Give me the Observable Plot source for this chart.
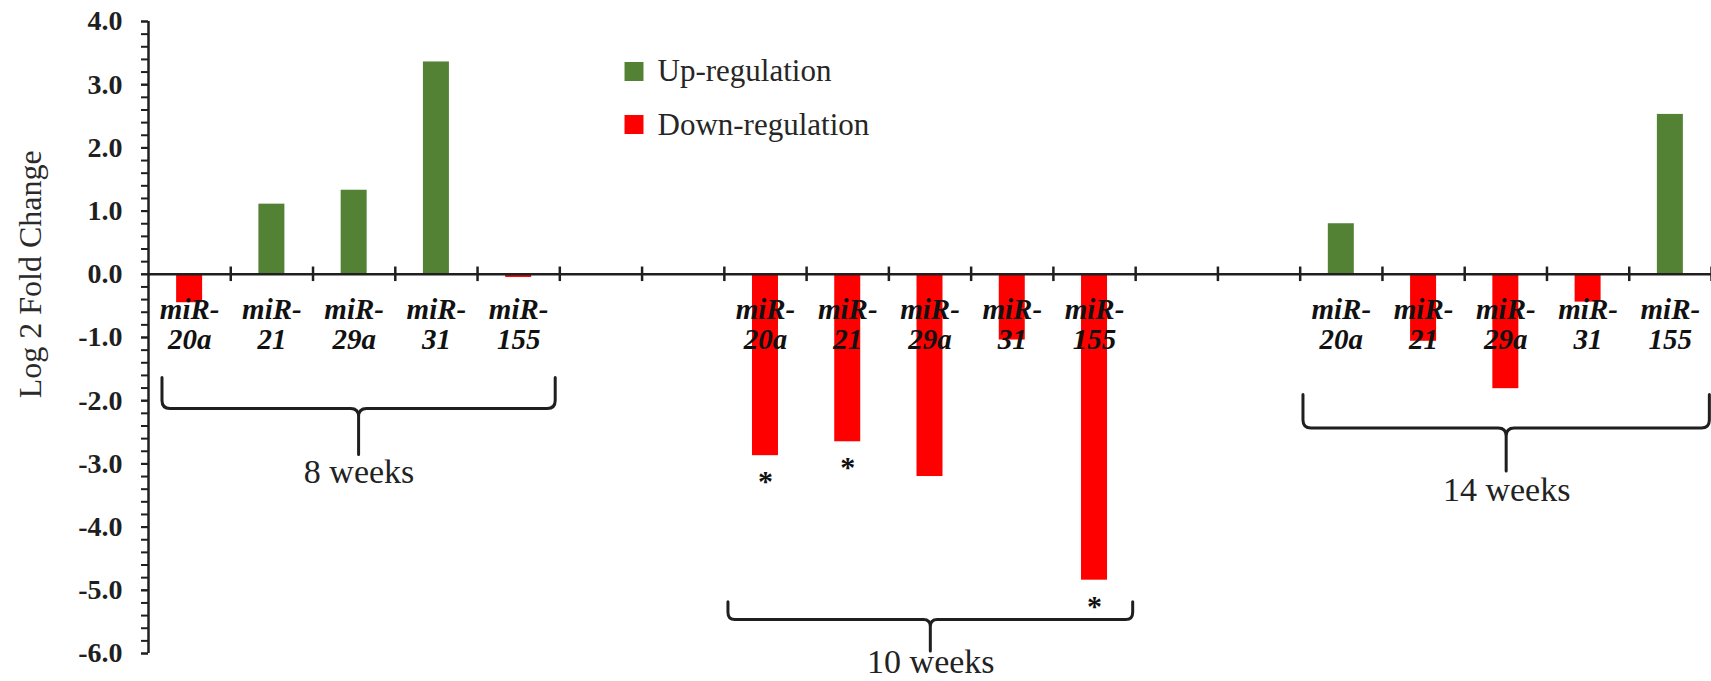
<!DOCTYPE html>
<html>
<head>
<meta charset="utf-8">
<script src="https://cdn.jsdelivr.net/npm/d3@7"></script>
<script src="https://cdn.jsdelivr.net/npm/@observablehq/plot@0.6"></script>
<style>
  html, body { margin: 0; padding: 0; background: #fff; }
  #chart svg { display: block; }
</style>
</head>
<body>
<div id="chart"></div>
<script>
// miRNA expression (log2 fold change) at three time points
const miRNAs = ["miR-20a", "miR-21", "miR-29a", "miR-31", "miR-155"];
const weeks = ["8 weeks", "10 weeks", "14 weeks"];
const fold8 = [-0.45, 1.11, 1.33, 3.36, -0.05];
const fold10 = [-2.87, -2.65, -3.20, -1.04, -4.84];
const fold14 = [0.80, -1.06, -1.81, -0.44, 2.53];
const sig8 = ["", "", "", "", ""];
const sig10 = ["*", "*", "", "", "*"];
const sig14 = ["", "", "", "", ""];
const yTicks = [-6, -5, -4, -3, -2, -1, 0, 1, 2, 3, 4];
const legendLabels = ["Up-regulation", "Down-regulation"];

const UP = "#548235";
const DOWN = "#ff0000";
const INK = "#1f1f1f";

// each week group occupies 5 category slots followed by 2 empty slots
const groupStride = 7;
const slotCount = groupStride * (weeks.length - 1) + miRNAs.length;
const folds = [fold8, fold10, fold14];
const sigs = [sig8, sig10, sig14];

const rows = weeks.flatMap((week, g) =>
  miRNAs.map((name, i) => ({
    week,
    name,
    value: folds[g][i],
    sig: sigs[g][i],
    slot: g * groupStride + i + 0.5
  }))
);

// brace annotation layout (x in slot units, y in fold-change units)
const braceLayout = [
  {x1: 0.17, x2: 4.95, top: -1.64, bar: -2.13, stem: -2.86, label: -3.13, r: 8},
  {x1: 7.05, x2: 11.97, top: -5.19, bar: -5.47, stem: -5.97, label: -6.13, r: 7},
  {x1: 14.04, x2: 18.98, top: -1.91, bar: -2.44, stem: -3.12, label: -3.41, r: 8}
];

const barHalf = 0.158;
const minorTicks = d3.range(-30, 21).map(k => k / 5);
const slotEdges = d3.range(1, slotCount + 1);

function braces(index, scales) {
  const {x, y} = scales;
  const g = d3.create("svg:g")
    .attr("fill", "none")
    .attr("stroke", INK)
    .attr("stroke-width", 3)
    .attr("stroke-linecap", "round")
    .attr("stroke-linejoin", "round");
  for (const b of braceLayout) {
    const xa = x(b.x1), xb = x(b.x2), xc = (xa + xb) / 2;
    const yt = y(b.top), yh = y(b.bar), ys = y(b.stem), r = b.r;
    g.append("path").attr("d",
      `M${xa},${yt}V${yh - r}Q${xa},${yh} ${xa + r},${yh}H${xc - r}Q${xc},${yh} ${xc},${yh + r}V${ys}` +
      `M${xc},${yh + r}Q${xc},${yh} ${xc + r},${yh}H${xb - r}Q${xb},${yh} ${xb},${yh - r}V${yt}`);
  }
  return g.node();
}

const chart = Plot.plot({
  width: 1711,
  height: 681,
  marginLeft: 148,
  marginRight: 0,
  marginTop: 21,
  marginBottom: 28,
  style: {fontFamily: "'Liberation Serif', 'Times New Roman', serif", color: INK, background: "#fff"},
  x: {domain: [0, slotCount], axis: null},
  y: {domain: [-6, 4], axis: null},
  marks: [
    // bars
    Plot.rectY(rows, {
      x1: d => d.slot - barHalf,
      x2: d => d.slot + barHalf,
      y1: 0,
      y2: "value",
      fill: d => d.value >= 0 ? UP : DOWN
    }),
    // y axis: minor ticks, labelled major ticks, axis line
    Plot.axisY(minorTicks, {tickSize: 7, tickFormat: () => "", label: null, strokeWidth: 2, stroke: INK}),
    Plot.axisY(yTicks, {
      tickSize: 7, tickPadding: 19, label: null,
      tickFormat: d => d.toFixed(1),
      fontSize: 28, fontWeight: "bold", fill: INK, strokeWidth: 2, stroke: INK
    }),
    Plot.ruleX([0], {stroke: INK, strokeWidth: 2.5}),
    // x axis at zero with slot boundary ticks
    Plot.ruleY([0], {stroke: INK, strokeWidth: 2.5}),
    Plot.ruleX(slotEdges, {x: d => d, y1: -0.115, y2: 0.115, stroke: INK, strokeWidth: 2.5}),
    // category labels
    Plot.text(rows, {
      x: "slot",
      y: () => 0,
      text: d => d.name.replace("-", "-\n"),
      lineAnchor: "top",
      dy: 23,
      lineHeight: 1.05,
      fontSize: 29,
      fontWeight: "bold",
      fontStyle: "italic",
      fill: "#111"
    }),
    // significance markers
    Plot.text(rows.filter(d => d.sig), {
      x: "slot",
      y: "value",
      text: "sig",
      dy: 26,
      fontSize: 30,
      fontWeight: "bold",
      fill: "#111"
    }),
    // week group braces and labels
    braces,
    Plot.text(weeks, {
      x: (d, i) => (braceLayout[i].x1 + braceLayout[i].x2) / 2,
      y: (d, i) => braceLayout[i].label,
      text: d => d,
      fontSize: 34,
      fill: "#222"
    }),
    // y axis title
    Plot.text(["Log 2 Fold Change"], {
      frameAnchor: "left",
      y: () => 0,
      dx: -118,
      rotate: -90,
      textAnchor: "middle",
      lineAnchor: "middle",
      text: d => d,
      fontSize: 32,
      fill: "#2a2a2a"
    }),
    // legend
    ...legendLabels.flatMap((label, i) => [
      Plot.dot([label], {
        frameAnchor: "top-left",
        dx: 485.5,
        dy: 50 + i * 53,
        symbol: "square",
        r: 10.7,
        fill: i === 0 ? UP : DOWN,
        stroke: "none"
      }),
      Plot.text([label], {
        frameAnchor: "top-left",
        dx: 509,
        dy: 50 + i * 54,
        text: d => d,
        textAnchor: "start",
        lineAnchor: "middle",
        fontSize: 31,
        fill: "#262626"
      })
    ])
  ]
});

document.getElementById("chart").append(chart);
</script>
</body>
</html>
